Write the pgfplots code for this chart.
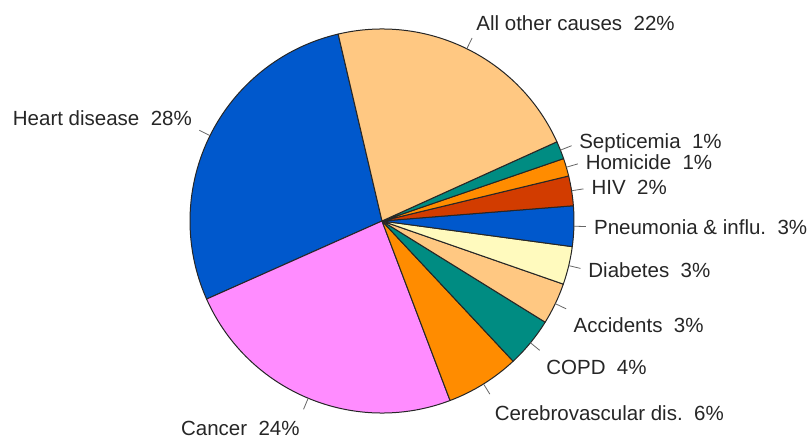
\documentclass[border=0pt]{standalone}
\usepackage{pgfplots}
\usepackage{pgfplotstable}
\pgfplotsset{compat=1.18}
\usepackage{fontspec}
\setmainfont{Liberation Sans}

% slice colours
\definecolor{heartblue}{RGB}{0,88,204}
\definecolor{cancerpink}{RGB}{255,140,255}
\definecolor{cerebroorange}{RGB}{255,140,0}
\definecolor{copdteal}{RGB}{0,140,130}
\definecolor{accidentpeach}{RGB}{255,200,130}
\definecolor{diabetesyellow}{RGB}{255,250,190}
\definecolor{hivred}{RGB}{210,60,0}

% shares of all deaths (%) and the rounded values shown in the labels
\pgfplotstableread{
share shown
28.0  28
24.1  24
6.2   6
4.2   4
3.5   3
3.2   3
3.4   3
2.5   2
1.5   1
1.5   1
21.9  22
}\deaths

\newcommand\causename[1]{\ifcase#1 Heart disease\or Cancer\or Cerebrovascular dis.\or COPD\or Accidents\or Diabetes\or Pneumonia \& influ.\or HIV\or Homicide\or Septicemia\or All other causes\fi}
\newcommand\causecolor[1]{\ifcase#1 heartblue\or cancerpink\or cerebroorange\or copdteal\or accidentpeach\or diabetesyellow\or heartblue\or hivred\or cerebroorange\or copdteal\or accidentpeach\fi}
\newcommand\labfont{\fontsize{20.5bp}{24bp}\selectfont}

\begin{document}
\begin{tikzpicture}
\begin{axis}[
    hide axis,
    scale only axis,
    width=807bp, height=440bp,
    xmin=0, xmax=807, ymin=0, ymax=440,
    y dir=reverse,
    clip=false,
]
\coordinate (bl) at (rel axis cs:0,0);
\coordinate (tr) at (rel axis cs:1,1);

\def\startangle{103.2}
\pgfplotsforeachungrouped \i in {0,...,10}{%
  \pgfplotstablegetelem{\i}{share}\of\deaths \let\sh\pgfplotsretval
  \pgfplotstablegetelem{\i}{shown}\of\deaths \let\sn\pgfplotsretval
  \pgfmathsetmacro\endangle{\startangle+3.6*\sh}%
  \pgfmathsetmacro\mid{(\startangle+\endangle)/2}%
  \pgfmathsetmacro\cmid{cos(\mid)}%
  \pgfmathsetmacro\smid{sin(\mid)}%
  \ifdim\cmid pt>0pt \def\hs{west}\else\def\hs{east}\fi
  \ifdim\smid pt>0.4pt \edef\anc{south \hs}\def\ys{0bp}%
  \else\ifdim\smid pt<-0.4pt \edef\anc{north \hs}\def\ys{-4.5bp}%
  \else\edef\anc{\hs}\def\ys{0bp}\fi\fi
  \edef\temp{%
    \noexpand\filldraw[fill=\causecolor{\i}, draw=black!85, line width=1bp, line join=round]
      (axis cs:382,221) -- ++(\startangle:192bp)
      arc[start angle=\startangle, end angle=\endangle, radius=192bp] -- cycle;
    \noexpand\draw[black!60, line width=0.8bp]
      (axis cs:382,221) ++(\mid:192bp) -- ++(\mid:12bp);
    \noexpand\node[anchor=\anc, yshift=\ys, inner sep=1bp, font=\noexpand\labfont, text=black!85]
      at ([shift={(\mid:211bp)}]axis cs:382,221)
      {\noexpand\causename{\i}\noexpand\ \noexpand\ \sn\noexpand\%};
  }\temp
  \let\startangle\endangle
}
\end{axis}
\pgfresetboundingbox
\path[use as bounding box] (bl) rectangle (tr);
\end{tikzpicture}
\end{document}
